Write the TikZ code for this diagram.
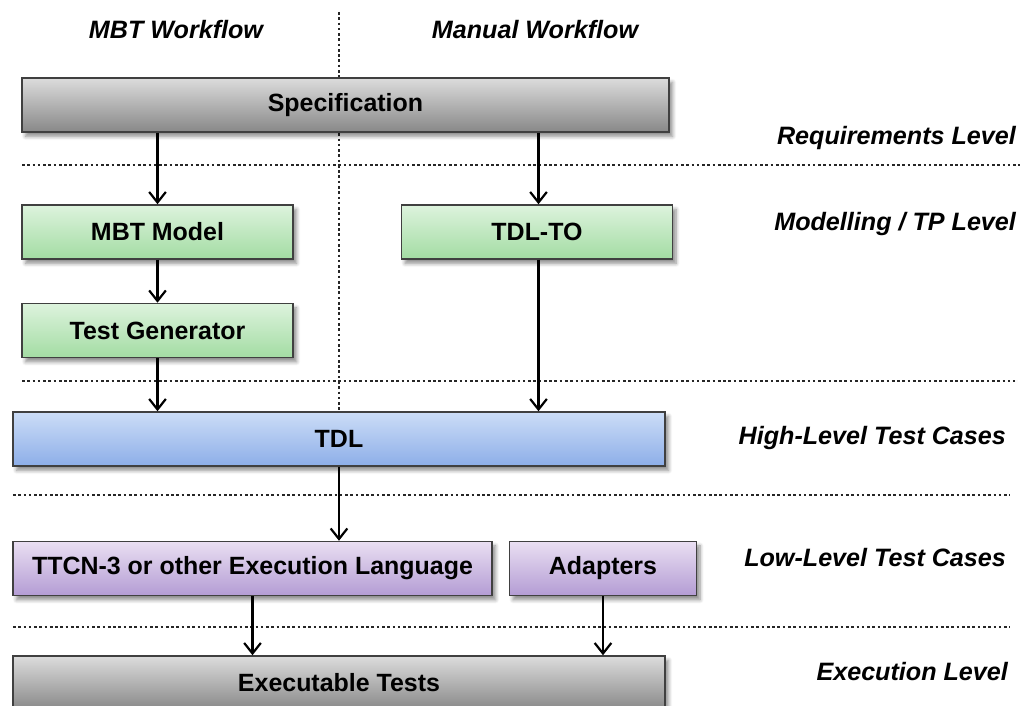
\documentclass[tikz,border=0pt]{standalone}
\usepackage{fontspec}
\setmainfont{Liberation Sans}
\usepackage{tikz}
\usepackage{xcolor}
\usetikzlibrary{positioning, arrows.meta, shadows.blur, backgrounds, calc}

\definecolor{specTop}{HTML}{DCDCDC}
\definecolor{specBot}{HTML}{888888}
\definecolor{greenTop}{HTML}{DDF3DD}
\definecolor{greenBot}{HTML}{A3DCA3}
\definecolor{blueTop}{HTML}{CCDDF7}
\definecolor{blueBot}{HTML}{8DAEE8}
\definecolor{purpTop}{HTML}{E9DFF2}
\definecolor{purpBot}{HTML}{B49CD4}

\begin{document}
\begin{tikzpicture}[
        >={Straight Barb[length=6pt, width=9.5pt]},
        % Styles
        basebox/.style={rectangle, draw=black!75, line width=0.85pt, minimum height=1.08cm,
                align=center, font=\fontsize{14.2}{17}\selectfont\bfseries,
                blur shadow={shadow xshift=2pt, shadow yshift=-2.5pt, shadow blur steps=6, shadow opacity=45}},
        specbox/.style={basebox, top color=specTop, bottom color=specBot},
        modelbox/.style={basebox, top color=greenTop, bottom color=greenBot, minimum width=5.42cm},
        tdlbox/.style={basebox, top color=blueTop, bottom color=blueBot},
        execbox/.style={basebox, top color=purpTop, bottom color=purpBot},
        arrow/.style={->, line width=1.25pt, black},
        sepline/.style={line width=1.6pt, black!85, dash pattern=on 1.5pt off 1.5pt},
        levellab/.style={anchor=east, inner sep=1pt, font=\fontsize{14.3}{17}\selectfont\bfseries\itshape},
        flowlab/.style={font=\fontsize{14.3}{17}\selectfont\bfseries\itshape}, ]

        \useasboundingbox (0,0) rectangle (20.4,-14.12);

        % === SEPARATORS ===
        \draw[sepline] (6.78,-0.24) -- (6.78,-8.2);
        \draw[sepline] (0.44,-3.30) -- (20.4,-3.30);
        \draw[sepline] (0.44,-7.62) -- (20.3,-7.62);
        \draw[sepline] (0.26,-9.90) -- (20.2,-9.90);
        \draw[sepline] (0.26,-12.54) -- (20.2,-12.54);

        % === HEADINGS ===
        \node[flowlab] (mbtflow) at (3.52,-0.6) {MBT Workflow};
        \node[flowlab] (manflow) at (10.7,-0.6) {Manual Workflow};

        % === LEVELS ===
        \node[levellab] (reqlev) at (20.36,-2.76) {Requirements Level};
        \node[levellab] (modlev) at (20.36,-4.48) {Modelling / TP Level};
        \node[levellab] (hilev) at (20.16,-8.76) {High-Level Test Cases};
        \node[levellab] (lolev) at (20.16,-11.16) {Low-Level Test Cases};
        \node[levellab] (exlev) at (20.2,-13.44) {Execution Level};

        % === BOXES ===
        \node[specbox, minimum width=12.94cm] (spec) at (6.91,-2.10) {Specification};
        \node[modelbox] (mbt) at (3.15,-4.64) {MBT Model};
        \node[modelbox, right=2.14cm of mbt] (tdlto) {TDL-TO};
        \node[modelbox, below=0.86cm of mbt] (testgen) {Test Generator};
        \node[tdlbox, minimum width=13.04cm] (tdl) at (6.78,-8.78) {TDL};
        \node[execbox, minimum width=9.58cm] (ttcn) at (5.05,-11.37) {TTCN-3 or other Execution Language};
        \node[execbox, minimum width=3.74cm, right=0.32cm of ttcn] (adapt) {Adapters};
        \node[specbox, minimum width=13.04cm] (exec) at (6.78,-13.66) {Executable Tests};

        % Connections
        \draw[arrow] (mbt.north |- spec.south) -- (mbt.north);
        \draw[arrow] ([xshift=0.03cm]tdlto.north |- spec.south) -- ([xshift=0.03cm]tdlto.north);
        \draw[arrow] (mbt) -- (testgen);
        \draw[arrow] (testgen.south) -- (testgen.south |- tdl.north);
        \draw[arrow] ([xshift=0.03cm]tdlto.south) -- ([xshift=0.03cm]tdlto.south |- tdl.north);
        \draw[arrow] (tdl.south) -- (tdl.south |- ttcn.north);
        \draw[arrow] (ttcn.south) -- (ttcn.south |- exec.north);
        \draw[arrow] (adapt.south) -- (adapt.south |- exec.north);

    \end{tikzpicture}
\end{document}
